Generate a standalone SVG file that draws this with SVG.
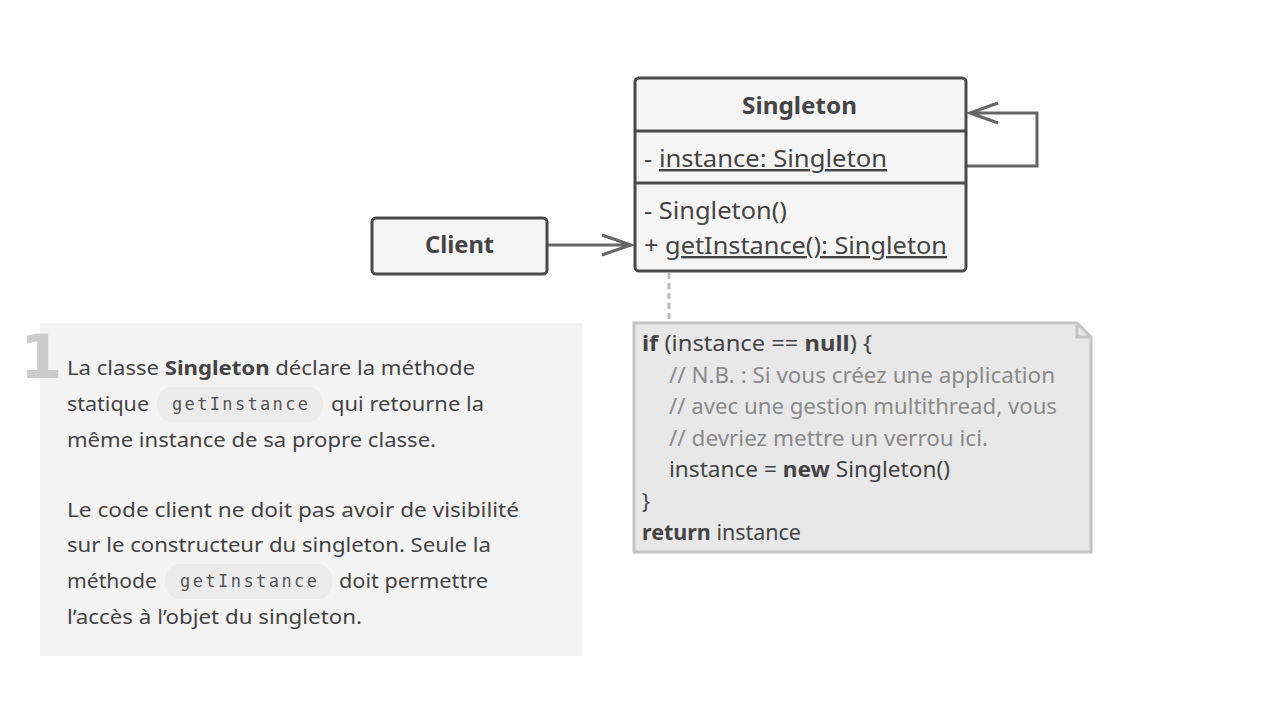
<svg xmlns="http://www.w3.org/2000/svg" width="1268" height="707" viewBox="0 0 1268 707">
<style>
text{font-family:"Noto Sans",Roboto,sans-serif;fill:#444;}
.box{fill:#f5f5f5;stroke:#4a4a4a;stroke-width:3;}
.div{stroke:#4a4a4a;stroke-width:3;fill:none;}
.t{font-size:24px;}
.b{font-weight:bold;}
.u{text-decoration:underline;}
.p{font-size:20px;}
.code{font-family:"DejaVu Sans Mono","Liberation Mono",monospace;font-size:17px;fill:#555;}
.pill{fill:#ebebeb;}
.n{font-size:21px;}
.c{fill:#8a8a8a;}
.conn{stroke:#666;stroke-width:3;fill:none;}
</style>
<rect x="0" y="0" width="1268" height="707" fill="#ffffff"/>
<g id="panel">
<rect x="40" y="323" width="542" height="333" fill="#f3f3f3"/>
<text x="20" y="378" style="font-family:'DejaVu Sans',sans-serif;font-size:61px;font-weight:bold;fill:#cccccc">1</text>
<rect class="pill" x="157" y="387" width="166" height="35" rx="15"/>
<rect class="pill" x="165" y="564" width="167" height="35" rx="15"/>
<text class="p" x="67" y="375" textLength="408" lengthAdjust="spacingAndGlyphs">La classe <tspan class="b">Singleton</tspan> déclare la méthode</text>
<text class="p" x="67" y="411" textLength="82" lengthAdjust="spacingAndGlyphs">statique</text>
<text class="code" x="172" y="410" textLength="136" lengthAdjust="spacing">getInstance</text>
<text class="p" x="331" y="411" textLength="153" lengthAdjust="spacingAndGlyphs">qui retourne la</text>
<text class="p" x="67" y="447" textLength="369" lengthAdjust="spacingAndGlyphs">même instance de sa propre classe.</text>
<text class="p" x="67" y="517" textLength="452" lengthAdjust="spacingAndGlyphs">Le code client ne doit pas avoir de visibilité</text>
<text class="p" x="67" y="552" textLength="424" lengthAdjust="spacingAndGlyphs">sur le constructeur du singleton. Seule la</text>
<text class="p" x="67" y="588" textLength="90" lengthAdjust="spacingAndGlyphs">méthode</text>
<text class="code" x="180" y="587" textLength="137" lengthAdjust="spacing">getInstance</text>
<text class="p" x="339" y="588" textLength="149" lengthAdjust="spacingAndGlyphs">doit permettre</text>
<text class="p" x="67" y="624" textLength="295" lengthAdjust="spacingAndGlyphs">l’accès à l’objet du singleton.</text>
</g>
<g id="connectors">
<path class="conn" d="M548 245 H631 M602 235 L631 245 L602 255"/>
<path class="conn" d="M966 166 H1037 V113 H970 M998 103 L970 113 L998 123"/>
<path d="M669 273 V322" stroke="#bbbbbb" stroke-width="3" stroke-dasharray="6 4" fill="none"/>
</g>
<g id="singleton">
<rect class="box" x="635" y="78" width="331" height="193" rx="4"/>
<path class="div" d="M635 131 H966 M635 183 H966"/>
<text class="t b" x="742" y="114" textLength="115" lengthAdjust="spacingAndGlyphs">Singleton</text>
<text class="t" x="644" y="167" textLength="243" lengthAdjust="spacingAndGlyphs">- <tspan class="u">instance: Singleton</tspan></text>
<text class="t" x="644" y="219" textLength="143" lengthAdjust="spacingAndGlyphs">- Singleton()</text>
<text class="t" x="644" y="254" textLength="303" lengthAdjust="spacingAndGlyphs">+ <tspan class="u">getInstance(): Singleton</tspan></text>
</g>
<g id="client">
<rect class="box" x="372" y="218" width="175" height="56" rx="4"/>
<text class="t b" x="425" y="253" textLength="69" lengthAdjust="spacingAndGlyphs">Client</text>
</g>
<g id="note">
<path d="M634 323 H1077 L1091 337 V552 H634 Z" fill="#e8e8e8" stroke="#c4c4c4" stroke-width="3"/>
<path d="M1077 323 V337 H1091" fill="none" stroke="#c4c4c4" stroke-width="3"/>
<text class="n" x="642" y="351" textLength="230" lengthAdjust="spacingAndGlyphs"><tspan class="b">if</tspan> (instance == <tspan class="b">null</tspan>) {</text>
<text class="n c" x="669" y="383" textLength="386" lengthAdjust="spacingAndGlyphs">// N.B. : Si vous créez une application</text>
<text class="n c" x="669" y="414" textLength="388" lengthAdjust="spacingAndGlyphs">// avec une gestion multithread, vous</text>
<text class="n c" x="669" y="446" textLength="319" lengthAdjust="spacingAndGlyphs">// devriez mettre un verrou ici.</text>
<text class="n" x="669" y="477" textLength="281" lengthAdjust="spacingAndGlyphs">instance = <tspan class="b">new</tspan> Singleton()</text>
<text class="n" x="642" y="509">}</text>
<text class="n" x="642" y="540" textLength="159" lengthAdjust="spacingAndGlyphs"><tspan class="b">return</tspan> instance</text>
</g>
</svg>
